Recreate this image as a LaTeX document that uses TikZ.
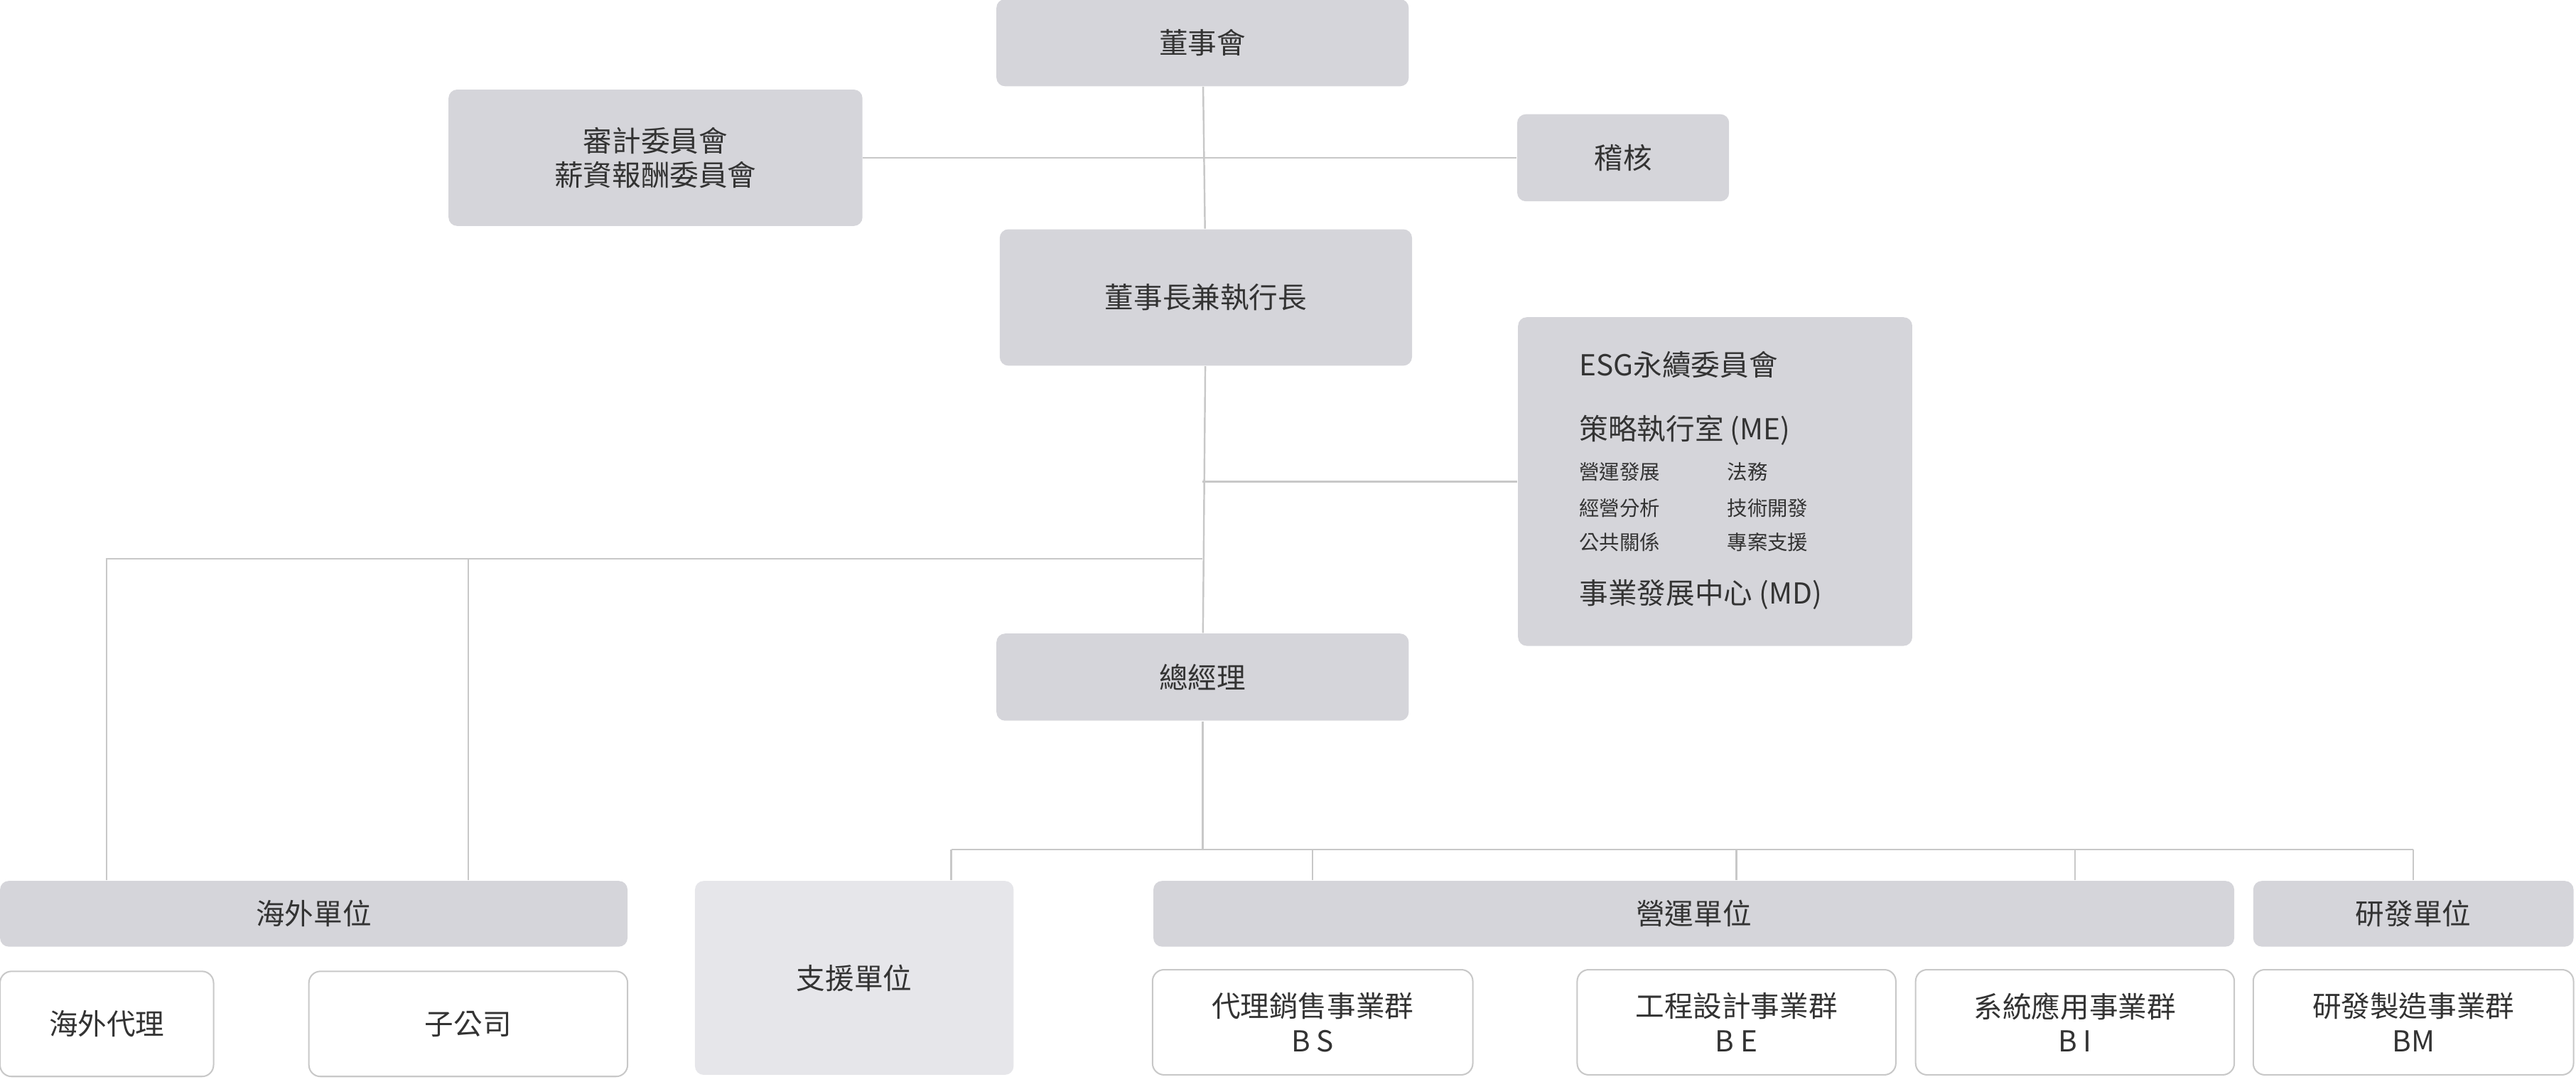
\documentclass[tikz,border=0pt]{standalone}
\usepackage{fontspec}
\setmainfont{Noto Sans CJK TC}
\newfontfamily\cjkbold[FakeBold=1.2]{Noto Sans CJK TC}
\definecolor{boxgray}{HTML}{D5D5DA}
\definecolor{boxlight}{HTML}{E6E6EA}
\definecolor{linegray}{HTML}{C8C8C8}
\definecolor{txt}{HTML}{333333}
\tikzset{
  graybox/.style={fill=boxgray, rounded corners=3pt, text=txt, font=\fontsize{10}{12}\selectfont, align=center, inner sep=0pt},
  whitebox/.style={draw=linegray, line width=0.5pt, fill=white, rounded corners=4pt, text=txt, font=\fontsize{10}{12}\selectfont, align=center, inner sep=0pt},
  link/.style={draw=linegray, line width=0.6pt},
  esgtext/.style={anchor=west, text=txt, inner sep=0pt}
}
\begin{document}
\begin{tikzpicture}[x=0.02cm, y=-0.02cm]
  \useasboundingbox (0,0) rectangle (1568,658);

  % top of the chart
  \node[graybox, minimum width=5.02cm, minimum height=1.06cm] (board) at (732,26) {董事會};
  \node[graybox, minimum width=5.04cm, minimum height=1.66cm] (committee) at (399,96) {審計委員會\\薪資報酬委員會};
  \node[graybox, minimum width=2.58cm, minimum height=1.06cm] (audit) at (988,96) {稽核};
  \node[graybox, minimum width=5.02cm, minimum height=1.66cm] (ceo) at (734,181) {董事長兼執行長};
  \node[graybox, minimum width=4.8cm, minimum height=4cm] (esg) at (1044,293) {};
  \node[graybox, minimum width=5.02cm, minimum height=1.06cm] (gm) at (732,412) {總經理};

  % text inside the ESG box
  \node[esgtext, font=\fontsize{10}{12}\selectfont] (esgtitle) at (961,222) {ESG永續委員會};
  \node[esgtext, font=\fontsize{10}{12}\selectfont] (me) at (961,262) {策略執行室 (ME)};
  \node[esgtext, font=\fontsize{7}{8}\selectfont] (me1) at (961,287) {營運發展};
  \node[esgtext, font=\fontsize{7}{8}\selectfont] (me2) at (1051,287) {法務};
  \node[esgtext, font=\fontsize{7}{8}\selectfont] (me3) at (961,309) {經營分析};
  \node[esgtext, font=\fontsize{7}{8}\selectfont] (me4) at (1051,309) {技術開發};
  \node[esgtext, font=\fontsize{7}{8}\selectfont] (me5) at (961,330) {公共關係};
  \node[esgtext, font=\fontsize{7}{8}\selectfont] (me6) at (1051,330) {專案支援};
  \node[esgtext, font=\fontsize{10}{12}\selectfont] (md) at (961,362) {事業發展中心 (MD)};

  % units
  \node[graybox, minimum width=7.64cm, minimum height=0.8cm] (overseas) at (191,556) {海外單位};
  \node[whitebox, minimum width=2.6cm, minimum height=1.28cm] (agent) at (65,623) {海外代理};
  \node[whitebox, minimum width=3.88cm, minimum height=1.28cm] (sub) at (285,623) {子公司};
  \node[graybox, fill=boxlight, minimum width=3.88cm, minimum height=2.36cm] (support) at (520,595) {支援單位};
  \node[graybox, minimum width=13.16cm, minimum height=0.8cm] (ops) at (1031,556) {營運單位};
  \node[graybox, minimum width=3.9cm, minimum height=0.8cm] (rd) at (1469,556) {研發單位};
  \node[whitebox, minimum width=3.9cm, minimum height=1.28cm] (bs) at (799,622) {代理銷售事業群\\B S};
  \node[whitebox, minimum width=3.88cm, minimum height=1.28cm] (be) at (1057,622) {工程設計事業群\\B E};
  \node[whitebox, minimum width=3.88cm, minimum height=1.28cm] (bi) at (1263,622) {系統應用事業群\\B I};
  \node[whitebox, minimum width=3.9cm, minimum height=1.28cm] (bm) at (1469,622) {研發製造事業群\\BM};

  % connectors
  \coordinate (j1) at (732,96);
  \coordinate (j2) at (732,293);
  \coordinate (j3) at (732,340);
  \coordinate (j4) at (732,517);
  \draw[link] (board) -- (ceo);
  \draw[link] (committee.east) -- (audit.west);
  \draw[link] (ceo) -- (gm);
  \draw[link] (j2) -- (esg.west);
  \draw[link] (j3) -| (overseas.north -| agent);
  \draw[link] (285,340) -- (overseas.north -| sub);
  \draw[link] (gm) -- (j4);
  \draw[link] (579,517) -- (1469,517);
  \draw[link] (579,517) -- (support.north -| 579,0);
  \draw[link] (799,517) -- (ops.north -| bs);
  \draw[link] (1057,517) -- (ops.north -| be);
  \draw[link] (1263,517) -- (ops.north -| bi);
  \draw[link] (1469,517) -- (rd.north);
\end{tikzpicture}
\end{document}
